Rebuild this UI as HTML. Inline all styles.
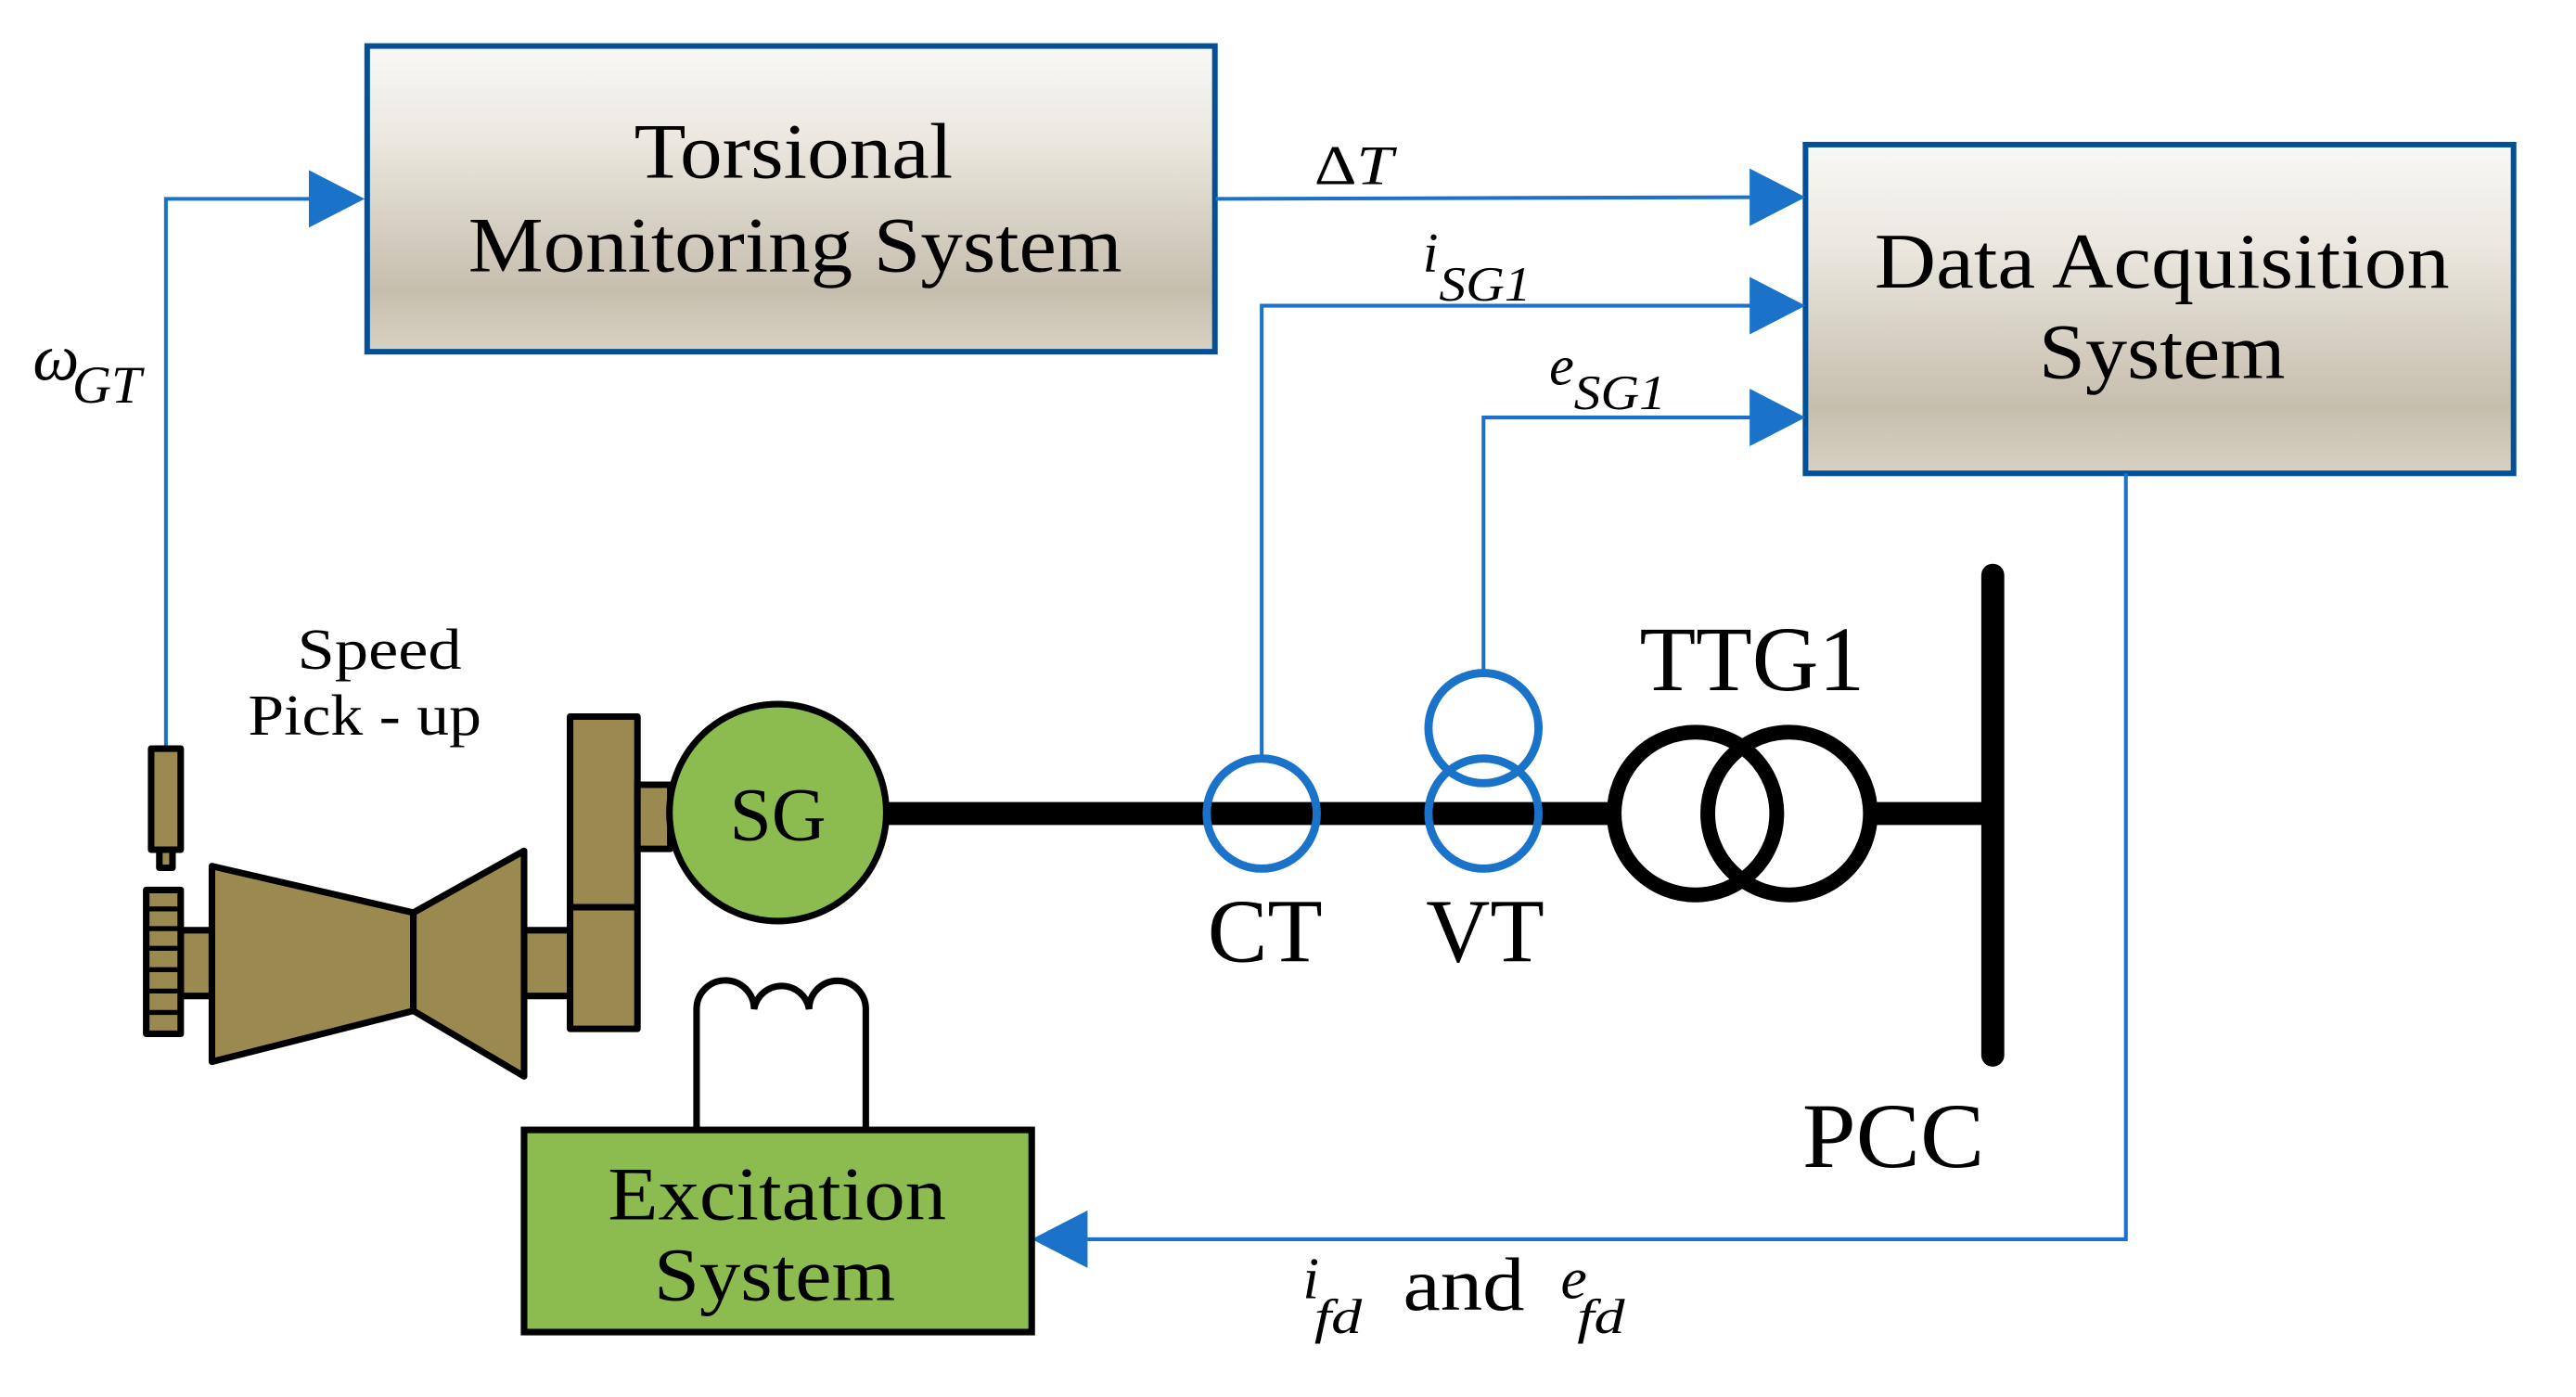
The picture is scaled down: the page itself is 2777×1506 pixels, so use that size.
<!DOCTYPE html>
<html><head><meta charset="utf-8"><style>
html,body{margin:0;padding:0;background:#fff;}
svg{display:block;}
text{font-family:"Liberation Serif",serif;fill:#000;}
</style></head><body>
<svg width="2777" height="1506" viewBox="0 0 1568 850" preserveAspectRatio="none" xmlns="http://www.w3.org/2000/svg">
<defs>
<linearGradient id="g" x1="0" y1="0" x2="0" y2="1">
<stop offset="0" stop-color="#f8f8f5"/>
<stop offset="0.3" stop-color="#ece8e0"/>
<stop offset="0.8" stop-color="#c6bead"/>
<stop offset="1" stop-color="#d8d2c4"/>
</linearGradient>
</defs>
<!-- boxes -->
<rect x="223.5" y="28" width="516" height="186" fill="url(#g)" stroke="#045096" stroke-width="3.4"/>
<rect x="1099" y="88" width="431" height="200" fill="url(#g)" stroke="#045096" stroke-width="3.4"/>
<text x="386" y="108" font-size="48" textLength="194" lengthAdjust="spacingAndGlyphs">Torsional</text>
<text x="285" y="165" font-size="48" textLength="398" lengthAdjust="spacingAndGlyphs">Monitoring System</text>
<text x="1141" y="175" font-size="48" textLength="350" lengthAdjust="spacingAndGlyphs">Data Acquisition</text>
<text x="1241" y="230" font-size="48" textLength="150" lengthAdjust="spacingAndGlyphs">System</text>

<!-- blue connectors -->
<g stroke="#1a73c8" stroke-width="2.3" fill="none">
<polyline points="101,455 101,121 190,121"/>
<line x1="740" y1="121" x2="1067" y2="120"/>
<polyline points="768,460 768,186 1067,186"/>
<polyline points="903,408 903,254 1067,254"/>
<polyline points="1294,288 1294,754 660,754"/>
</g>
<g fill="#1a73c8">
<polygon points="222,121 188,103.5 188,138.5"/>
<polygon points="1099,120 1065,102.5 1065,137.5"/>
<polygon points="1099,186 1065,168.5 1065,203.5"/>
<polygon points="1099,254 1065,236.5 1065,271.5"/>
<polygon points="628,754 662,736.5 662,771.5"/>
</g>

<!-- labels -->
<text x="20" y="231" font-size="40" font-style="italic">ω</text>
<text x="44" y="245" font-size="32" font-style="italic" textLength="42" lengthAdjust="spacingAndGlyphs">GT</text>
<text x="800" y="112" font-size="34" textLength="48" lengthAdjust="spacingAndGlyphs">Δ<tspan font-style="italic">T</tspan></text>
<text x="866" y="165" font-size="34" font-style="italic">i</text>
<text x="876" y="183" font-size="30" font-style="italic" textLength="56" lengthAdjust="spacingAndGlyphs">SG1</text>
<text x="943" y="234" font-size="34" font-style="italic">e</text>
<text x="958" y="249" font-size="30" font-style="italic" textLength="56" lengthAdjust="spacingAndGlyphs">SG1</text>
<text x="793" y="790" font-size="36" font-style="italic">i</text>
<text x="800" y="811" font-size="30" font-style="italic" textLength="29" lengthAdjust="spacingAndGlyphs">fd</text>
<text x="854" y="797" font-size="46" textLength="74" lengthAdjust="spacingAndGlyphs">and</text>
<text x="950" y="790" font-size="36" font-style="italic">e</text>
<text x="960" y="811" font-size="30" font-style="italic" textLength="29" lengthAdjust="spacingAndGlyphs">fd</text>
<text x="181" y="407" font-size="35" textLength="100" lengthAdjust="spacingAndGlyphs">Speed</text>
<text x="151" y="447" font-size="35" textLength="142" lengthAdjust="spacingAndGlyphs">Pick - up</text>

<!-- mechanical -->
<g stroke="#000" stroke-width="4" fill="#9a8a4f" stroke-linejoin="round">
<rect x="92" y="455.5" width="18" height="61.5"/>
<rect x="97" y="517" width="8" height="11"/>
<rect x="110" y="566" width="19" height="40"/>
<rect x="319" y="566" width="28" height="40"/>
<polygon points="129,527 251.6,555.3 251.6,615 129,646"/>
<polygon points="251.6,555.3 319,517.7 319,654.9 251.6,615"/>
<rect x="347" y="436" width="41" height="190"/>
<line x1="347" y1="552" x2="388" y2="552"/>
<rect x="388" y="477.5" width="20" height="39"/>
<rect x="89" y="541.5" width="21" height="87.5"/>
</g>
<g stroke="#000" stroke-width="3">
<line x1="89" y1="553" x2="110" y2="553"/>
<line x1="89" y1="565" x2="110" y2="565"/>
<line x1="89" y1="577" x2="110" y2="577"/>
<line x1="89" y1="590" x2="110" y2="590"/>
<line x1="89" y1="603" x2="110" y2="603"/>
<line x1="89" y1="616" x2="110" y2="616"/>
</g>

<!-- bus -->
<line x1="538" y1="495" x2="982" y2="495" stroke="#000" stroke-width="14"/>
<line x1="1136" y1="495" x2="1213" y2="495" stroke="#000" stroke-width="14"/>
<line x1="1213" y1="350" x2="1213" y2="642" stroke="#000" stroke-width="14" stroke-linecap="round"/>

<!-- SG -->
<circle cx="473.5" cy="494.4" r="66" fill="#8cbb50" stroke="#000" stroke-width="4"/>
<text x="473.5" y="511" font-size="46" text-anchor="middle">SG</text>

<!-- transformer -->
<circle cx="1032" cy="495" r="49.5" fill="none" stroke="#000" stroke-width="9"/>
<circle cx="1089" cy="495" r="49.5" fill="none" stroke="#000" stroke-width="9"/>

<!-- CT VT -->
<g fill="none" stroke="#1a73c8" stroke-width="5">
<circle cx="768" cy="495" r="33.5"/>
<circle cx="903" cy="495" r="33.5"/>
<circle cx="903" cy="443" r="33.5"/>
</g>

<text x="735" y="585" font-size="55" textLength="70" lengthAdjust="spacingAndGlyphs">CT</text>
<text x="868" y="585" font-size="55" textLength="72" lengthAdjust="spacingAndGlyphs">VT</text>
<text x="998" y="420" font-size="56" textLength="137" lengthAdjust="spacingAndGlyphs">TTG1</text>
<text x="1097" y="710" font-size="56" textLength="111" lengthAdjust="spacingAndGlyphs">PCC</text>

<!-- coil + excitation -->
<path d="M424,687 L424,614 A17.5,17.5 0 0 1 459,614 A17,17 0 0 1 492.5,614 A17.25,17.25 0 0 1 527,614 L527,687" fill="none" stroke="#000" stroke-width="4"/>
<rect x="319" y="687.5" width="309" height="123" fill="#8cbb50" stroke="#000" stroke-width="4"/>
<text x="370" y="742" font-size="46" textLength="206" lengthAdjust="spacingAndGlyphs">Excitation</text>
<text x="398" y="791" font-size="46" textLength="147" lengthAdjust="spacingAndGlyphs">System</text>
</svg>
</body></html>
